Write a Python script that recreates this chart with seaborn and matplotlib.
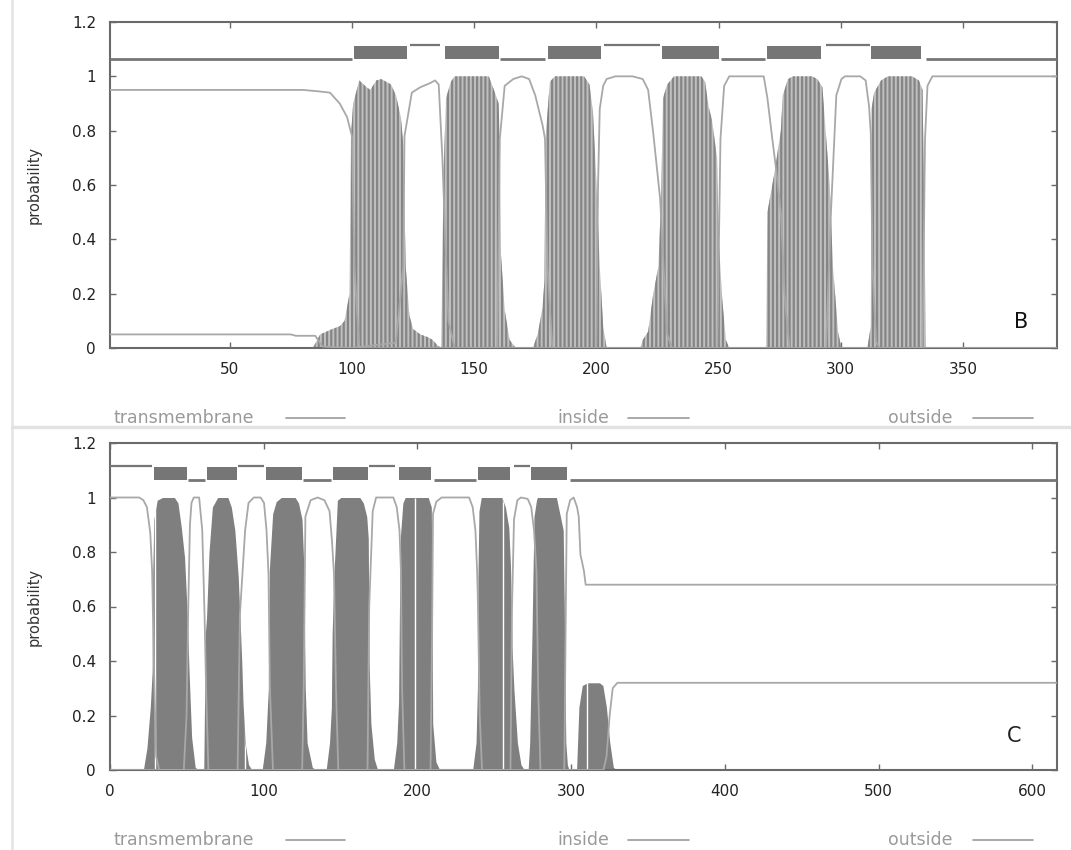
import seaborn as sns
import matplotlib.pyplot as plt
from matplotlib.lines import Line2D

# ---- panel B data ----
b_tm_x = [1, 84, 87, 92, 95, 97, 99, 99.6, 100.5, 103, 106, 107.5, 110, 112, 116, 118, 120, 121, 122, 123.5, 125, 128, 131, 133, 135, 136.5,
          137, 137.5, 138.5, 140.5, 142, 156, 158.5, 160, 160.5, 161, 162.5, 164.5, 167,
          174, 176, 178, 178.8, 179.2, 181, 183, 195, 197.2, 198.6, 200, 201.4, 202.8, 204.2,
          218, 219, 221.2, 223.3, 225.4, 226.5, 227.3, 229, 231.8, 243, 244.5, 245.9, 247.3, 249.4, 250.1, 251.5, 253, 254.4,
          269.5, 270, 273, 275.5, 276.3, 278.4, 280.5, 288.3, 290.4, 292.5, 293.9, 295.5, 296.8, 298.9, 300.3,
          310.9, 312.3, 312.6, 313.7, 316.5, 319.3, 329.2, 332, 333.5, 334, 334.9, 388.5]
b_tm_y = [0, 0, 0.05, 0.07, 0.08, 0.1, 0.2, 0.78, 0.9, 0.985, 0.96, 0.95, 0.985, 0.99, 0.97, 0.93, 0.85, 0.75, 0.3, 0.12, 0.07, 0.05, 0.04, 0.03, 0.01, 0.0,
          0.3, 0.65, 0.92, 0.98, 1.0, 1.0, 0.94, 0.9, 0.77, 0.34, 0.14, 0.03, 0.0,
          0.0, 0.05, 0.15, 0.25, 0.77, 0.98, 1.0, 1.0, 0.97, 0.87, 0.62, 0.3, 0.08, 0.0,
          0.0, 0.03, 0.06, 0.2, 0.3, 0.55, 0.92, 0.97, 1.0, 1.0, 0.98, 0.89, 0.84, 0.7, 0.4, 0.18, 0.03, 0.0,
          0.0, 0.5, 0.65, 0.8, 0.93, 0.99, 1.0, 1.0, 0.99, 0.96, 0.79, 0.6, 0.3, 0.06, 0.0,
          0.0, 0.08, 0.88, 0.94, 0.985, 1.0, 1.0, 0.985, 0.95, 0.6, 0.0, 0.0]

b_in_x = [1, 80, 86, 91, 95, 98, 100, 101, 103, 110,
          159.5, 160.5, 162.5, 166, 169.5, 172.5, 175, 178, 179, 180, 182,
          249.5, 250.8, 252.3, 254.4, 268.5, 270, 272, 273.4, 275.6, 277, 279,
          333.5, 334.5, 335.5, 337.5, 388.5]
b_in_y = [0.95, 0.95, 0.945, 0.94, 0.9, 0.85, 0.78, 0.3, 0.0, 0.0,
          0.0, 0.77, 0.965, 0.99, 1.0, 0.99, 0.93, 0.82, 0.77, 0.3, 0.0,
          0.0, 0.77, 0.965, 1.0, 1.0, 0.92, 0.77, 0.67, 0.49, 0.2, 0.0,
          0.0, 0.77, 0.965, 1.0, 1.0]

b_out_x = [1, 75, 77, 85, 88, 100, 118, 121,
           121.5, 124.5, 128, 132, 134, 135.5, 137, 138, 139.5, 142,
           200, 200.7, 201.4, 202.8, 204.2, 207.8, 214.8, 219, 221.2, 223.3, 226.1, 227.5, 229, 231,
           294, 296, 298.2, 300.3, 301.7, 308, 310.2, 311.6, 312.3, 313, 314.5, 316, 388.5]
b_out_y = [0.05, 0.05, 0.045, 0.045, 0.005, 0.0, 0.02, 0.3,
           0.78, 0.94, 0.96, 0.975, 0.985, 0.97, 0.7, 0.45, 0.1, 0.0,
           0.0, 0.6, 0.88, 0.965, 0.99, 1.0, 1.0, 0.99, 0.95, 0.79, 0.55, 0.3, 0.05, 0.0,
           0.0, 0.5, 0.93, 0.99, 1.0, 1.0, 0.985, 0.89, 0.79, 0.3, 0.02, 0.0, 0.0]

b_seg_kind = ['inside', 'TM', 'outside', 'TM', 'inside', 'TM', 'outside', 'TM', 'inside', 'TM', 'outside', 'TM', 'inside']
b_seg_start = [1, 101, 123.6, 138, 160.5, 180.3, 203, 227, 251, 270, 293.8, 312.5, 334.7]
b_seg_end = [100, 122.5, 136, 160, 178.8, 202, 226, 250, 269, 292, 311.8, 333, 388.5]

# ---- panel C data ----
c_tm_x = [0, 21.7, 24, 26.2, 27.4, 27.8, 28.5, 30.7, 34.1, 41.9, 44.2, 46.4, 48.5, 50, 51.5, 53.1, 55.4, 57.6,
          61, 62, 62.8, 64.4, 66.6, 70, 76.7, 78.9, 81.2, 83.4, 85.7, 86.5, 87.9, 90.1, 92.3,
          99, 101.3, 103, 103.6, 105.8, 108.1, 111.4, 120.4, 122.6, 124.9, 126, 127, 128.2, 131.6, 133.9,
          140.6, 142.8, 144, 144.5, 145.7, 147.9, 150.2, 162.5, 164.8, 167, 168, 168.5, 169.7, 171.9, 174.1,
          184.3, 186.5, 187.7, 188.3, 188.8, 190.5, 192, 207, 209, 209.5, 209.9, 212, 214.5,
          235.9, 238.1, 239, 239.3, 240, 241.5, 254.9, 257.2, 259.4, 260.5, 261.5, 262.8, 265, 267.3, 269.5,
          272, 273, 274.5, 275.8, 277.4, 278, 290.4, 292.6, 294.8, 295.5, 296, 296.5, 297.5, 298.5,
          303.5, 305, 307.2, 310.5, 318.4, 320.6, 322.9, 325.1, 327.4, 329.6, 616]
c_tm_y = [0, 0, 0.08, 0.23, 0.36, 0.72, 0.92, 0.99, 1.0, 1.0, 0.98, 0.89, 0.78, 0.6, 0.35, 0.12, 0.01, 0,
          0, 0.5, 0.56, 0.8, 0.965, 1.0, 1.0, 0.965, 0.88, 0.71, 0.4, 0.25, 0.1, 0.02, 0,
          0, 0.1, 0.3, 0.73, 0.94, 0.985, 1.0, 1.0, 0.98, 0.92, 0.76, 0.3, 0.1, 0.01, 0,
          0, 0.1, 0.23, 0.5, 0.72, 0.99, 1.0, 1.0, 0.98, 0.93, 0.85, 0.4, 0.17, 0.04, 0,
          0, 0.1, 0.25, 0.6, 0.85, 0.98, 1.0, 1.0, 0.965, 0.6, 0.17, 0.03, 0,
          0, 0.1, 0.3, 0.7, 0.95, 1.0, 1.0, 0.965, 0.89, 0.75, 0.45, 0.29, 0.1, 0.02, 0,
          0, 0.1, 0.5, 0.93, 0.99, 1.0, 1.0, 0.94, 0.88, 0.6, 0.3, 0.1, 0.02, 0,
          0, 0.23, 0.31, 0.32, 0.32, 0.31, 0.23, 0.1, 0.01, 0, 0]

c_in_x = [0, 48, 49.8, 50.9, 52, 53, 54.5, 58, 60, 61.5, 62.5, 64,
          125, 126, 127.1, 130.5, 135, 139.5, 142.8, 144.4, 145.7, 147, 148.5,
          208.5, 209.5, 210.1, 212.3, 215.7, 233.6, 235.9, 237.7, 238.8, 239.2, 240.5, 242,
          295.5, 296.5, 297.1, 299.3, 301.6, 303.8, 304.9, 306, 307.2, 308.3, 309.4, 616]
c_in_y = [0, 0, 0.2, 0.6, 0.9, 0.98, 1.0, 1.0, 0.88, 0.57, 0.3, 0.0,
          0.0, 0.3, 0.93, 0.99, 1.0, 0.99, 0.95, 0.84, 0.72, 0.3, 0.0,
          0.0, 0.5, 0.94, 0.985, 1.0, 1.0, 0.965, 0.88, 0.73, 0.65, 0.2, 0.0,
          0.0, 0.6, 0.94, 0.99, 1.0, 0.965, 0.93, 0.79, 0.76, 0.73, 0.68, 0.68]

c_out_x = [0, 19, 21.7, 24, 26.2, 27.4, 28.5, 30, 32,
           83, 84.5, 87.9, 90.1, 93.5, 98, 100.2, 101.8, 103.1, 104, 106,
           167.5, 168.6, 170.9, 173.1, 184.3, 186.5, 188.3, 189.2, 190, 191.5,
           260.5, 261.5, 262.8, 265, 267.3, 271.7, 274, 275.8, 277.4, 278.5, 280,
           321, 323, 325, 327, 330, 616]
c_out_y = [1.0, 1.0, 0.99, 0.965, 0.87, 0.73, 0.4, 0.05, 0.0,
           0.0, 0.57, 0.88, 0.98, 1.0, 1.0, 0.98, 0.88, 0.72, 0.3, 0.0,
           0.0, 0.6, 0.95, 1.0, 1.0, 0.965, 0.88, 0.74, 0.3, 0.0,
           0.0, 0.6, 0.92, 0.99, 1.0, 0.995, 0.965, 0.88, 0.73, 0.3, 0.0,
           0.0, 0.05, 0.2, 0.3, 0.32, 0.32]

c_seg_kind = ['outside', 'TM', 'inside', 'TM', 'outside', 'TM', 'inside', 'TM', 'outside', 'TM', 'inside', 'TM', 'outside', 'TM', 'inside']
c_seg_start = [0, 28.5, 51, 62.8, 83.4, 101.3, 125.6, 145, 168.6, 187.7, 210.8, 239.2, 262.8, 273.8, 299.3]
c_seg_end = [27, 49.8, 62, 82.3, 100.2, 124.9, 144, 167.5, 185.4, 209, 238, 260.5, 273, 297, 616]

# thin white gaps visible inside the solid C bars
c_gap_x = [29.5, 87.5, 198.5, 255.5, 310.5]

y_ticks = [0, 0.2, 0.4, 0.6, 0.8, 1, 1.2]
y_labels = ['0', '0.2', '0.4', '0.6', '0.8', '1', '1.2']
b_xticks = [50, 100, 150, 200, 250, 300, 350]
c_xticks = [0, 100, 200, 300, 400, 500, 600]

sns.set_theme(style='ticks')
plt.rcParams['font.family'] = ['DejaVu Sans']
plt.rcParams['hatch.linewidth'] = 1.6

W, H = 1071, 850
fig = plt.figure(figsize=(W / 100, H / 100), dpi=100)
fig.patch.set_facecolor('white')
ax_b = fig.add_axes([110 / W, 1 - 348 / H, 947 / W, 326 / H])
ax_c = fig.add_axes([110 / W, 1 - 770 / H, 947 / W, 327 / H])

line_col = '#a8a8a8'
bar_col = '#767676'


def draw_panel(ax, tm_x, tm_y, in_x, in_y, out_x, out_y, seg_start, seg_end, seg_kind, solid):
    if solid:
        poly = ax.fill_between(tm_x, 0, tm_y, facecolor='#7f7f7f', linewidth=0, zorder=2)
    else:
        poly = ax.fill_between(tm_x, 0, tm_y, facecolor='#c0c0c0', edgecolor='#858585',
                               hatch='||||', linewidth=0, zorder=2)
    sns.lineplot(x=in_x, y=in_y, ax=ax, color=line_col, linewidth=1.3,
                 sort=False, estimator=None, zorder=3)
    sns.lineplot(x=out_x, y=out_y, ax=ax, color=line_col, linewidth=1.3,
                 sort=False, estimator=None, zorder=3)
    # topology bar on top
    for s, e, k in zip(seg_start, seg_end, seg_kind):
        if k == 'TM':
            ax.fill_between([s, e], 1.065, 1.112, color=bar_col, linewidth=0, zorder=3)
        elif k == 'inside':
            ax.plot([s, e], [1.065, 1.065], color=bar_col, lw=2.0, solid_capstyle='butt', zorder=3)
        else:
            ax.plot([s, e], [1.115, 1.115], color=bar_col, lw=1.6, solid_capstyle='butt', zorder=3)
    ax.set_ylim(0, 1.2)
    ax.set_yticks(y_ticks)
    ax.set_yticklabels(y_labels)
    ax.set_ylabel('probability', fontsize=10.5, color='#333333')
    ax.yaxis.set_label_coords(-0.072, 0.5)
    ax.set_xlabel('')
    ax.tick_params(direction='in', length=4, width=1, top=True, right=True,
                   labelsize=11, pad=10, color='#6a6a6a', labelcolor='#222222')
    for sp in ax.spines.values():
        sp.set_color('#6a6a6a')
        sp.set_linewidth(1.5)
    return poly


draw_panel(ax_b, b_tm_x, b_tm_y, b_in_x, b_in_y, b_out_x, b_out_y,
           b_seg_start, b_seg_end, b_seg_kind, solid=False)
ax_b.set_xlim(1, 388.5)
ax_b.set_xticks(b_xticks)
ax_b.text(374, 0.094, 'B', fontsize=15, ha='center', va='center', color='#111111')

poly_c = draw_panel(ax_c, c_tm_x, c_tm_y, c_in_x, c_in_y, c_out_x, c_out_y,
                    c_seg_start, c_seg_end, c_seg_kind, solid=True)
ax_c.set_xlim(0, 616)
ax_c.set_xticks(c_xticks)
ax_c.text(588, 0.125, 'C', fontsize=15, ha='center', va='center', color='#222222')
gaps = ax_c.vlines(c_gap_x, 0, 1.0, colors='white', lw=1.0, zorder=2.5)
gaps.set_clip_path(poly_c.get_paths()[0], ax_c.transData)

# legend rows under each panel, like the original screenshot
leg_col = '#9a9a9a'
for y_px in [418, 840]:
    yf = 1 - y_px / H
    for x_txt, x0, x1, label in [(114, 286, 345, 'transmembrane'),
                                 (557, 628, 689, 'inside'),
                                 (888, 973, 1033, 'outside')]:
        fig.text(x_txt / W, yf, label, fontsize=12.5, color=leg_col, va='center', ha='left')
        fig.add_artist(Line2D([x0 / W, x1 / W], [yf, yf], transform=fig.transFigure,
                              color=leg_col, lw=1.2))

# light frame lines of the two screenshots
fig.add_artist(Line2D([12 / W, 12 / W], [0, 1], transform=fig.transFigure, color='#e6e6e6', lw=2))
fig.add_artist(Line2D([12 / W, 1], [1 - 427 / H, 1 - 427 / H], transform=fig.transFigure,
                      color='#e2e2e2', lw=2.5))

fig.savefig('out.png', dpi=100)
